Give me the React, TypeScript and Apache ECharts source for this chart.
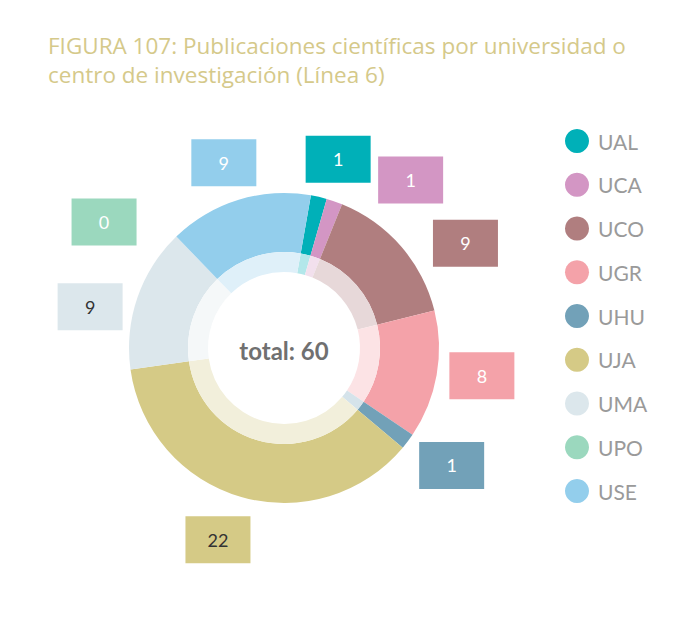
import React, { useEffect, useRef } from "react";
import * as echarts from "echarts";

const titleLines = [
  "FIGURA 107: Publicaciones científicas por universidad o",
  "centro de investigación (Línea 6)",
];
const categories = ["UAL", "UCA", "UCO", "UGR", "UHU", "UJA", "UMA", "UPO", "USE"];
const values = [1, 1, 9, 8, 1, 22, 9, 0, 9];
const colors = ["#00B0B8", "#D396C4", "#B07E7F", "#F4A2A9", "#72A1B8", "#D5CA86", "#DCE7EC", "#9BD8BE", "#93CEEC"];
const labelTextColors = ["#ffffff", "#ffffff", "#ffffff", "#ffffff", "#ffffff", "#333333", "#333333", "#ffffff", "#ffffff"];
// small hand tweaks of the label boxes around the ring (angle in degrees, radius in px), as in the original layout
const labelNudgeDeg = [3, 2, 3, -2, -2, 3, -7, -11, -1];
const labelNudgeR = [0, 9, 0, -5, -7, 6, -7, 8, -2];

const CX = 284;
const CY = 348;
const START_CW = 10; // degrees clockwise from 12 o'clock
const LABEL_EDGE_R = 172;
const MIN_GAP = 22;
const BOX_W = 65;
const BOX_H = 47;

function lighten(hex: string, a: number) {
  const n = parseInt(hex.slice(1), 16);
  const r = (n >> 16) & 255, g = (n >> 8) & 255, b = n & 255;
  const f = (c: number) => Math.round(255 - a * (255 - c));
  return `rgb(${f(r)},${f(g)},${f(b)})`;
}

function labelAngles() {
  const total = values.reduce((s, v) => s + v, 0);
  let cum = 0;
  const mids = values.map((v) => {
    const m = START_CW + ((cum + v / 2) * 360) / total;
    cum += v;
    return m;
  });
  const a = mids.slice();
  const n = a.length;
  for (let k = 0; k < 2; k++) {
    for (let i = 0; i < n; i++) {
      const prev = i === 0 ? a[n - 1] - 360 : a[i - 1];
      a[i] = Math.max(a[i], prev + MIN_GAP);
    }
  }
  return a.map((v, i) => v + labelNudgeDeg[i]);
}

export default function App() {
  const ref = useRef<HTMLDivElement>(null);
  useEffect(() => {
    if (!ref.current) return;
    const chart = echarts.init(ref.current, undefined, { renderer: "svg" });
    const angles = labelAngles();
    const data = categories.map((c, i) => ({
      name: c,
      value: values[i],
      itemStyle: { color: colors[i] },
      label: { backgroundColor: colors[i], color: labelTextColors[i] },
    }));
    const innerData = categories.map((c, i) => ({
      name: c,
      value: values[i],
      itemStyle: { color: lighten(colors[i], 0.3) },
    }));
    chart.setOption({
      animation: false,
      title: {
        text: titleLines.join("\n"),
        left: 43,
        top: 26,
        textStyle: {
          fontFamily: "Open Sans",
          fontWeight: "normal",
          fontSize: 22.5,
          lineHeight: 29,
          color: "#D5C98A",
        },
      },
      legend: {
        orient: "vertical",
        left: 560,
        top: 124,
        icon: "circle",
        itemWidth: 24,
        itemHeight: 24,
        itemGap: 19.75,
        data: categories,
        textStyle: {
          fontFamily: "Lato",
          fontSize: 21,
          color: "#9A9A9A",
          padding: [0, 0, 0, 4],
        },
      },
      graphic: [
        {
          type: "text",
          x: CX,
          y: CY + 2,
          style: {
            text: "total: 60",
            fontFamily: "Lato",
            fontWeight: "bold",
            fontSize: 24,
            fill: "#707070",
            align: "center",
            verticalAlign: "middle",
          },
        },
      ],
      series: [
        {
          type: "pie",
          center: [CX, CY],
          radius: [96, 155],
          startAngle: 90 - START_CW,
          clockwise: true,
          avoidLabelOverlap: false,
          data,
          label: {
            show: true,
            position: "outside",
            formatter: "{c}",
            width: BOX_W,
            height: BOX_H,
            lineHeight: BOX_H,
            align: "center",
            verticalAlign: "middle",
            fontFamily: "Lato",
            fontSize: 18,
            padding: 0,
          },
          labelLine: { show: false },
          labelLayout: (p: any) => {
            const i = p.dataIndex;
            const th = (angles[i] * Math.PI) / 180;
            const s = Math.abs(Math.sin(th));
            const c = Math.abs(Math.cos(th));
            const half = Math.min(s > 1e-6 ? BOX_W / 2 / s : 1e9, c > 1e-6 ? BOX_H / 2 / c : 1e9);
            const r = LABEL_EDGE_R + labelNudgeR[i] + half;
            return {
              x: CX + r * Math.sin(th),
              y: CY - r * Math.cos(th),
              align: "center",
              verticalAlign: "middle",
            };
          },
          emphasis: { disabled: true },
        },
        {
          type: "pie",
          center: [CX, CY],
          radius: [76, 96],
          startAngle: 90 - START_CW,
          clockwise: true,
          data: innerData,
          label: { show: false },
          labelLine: { show: false },
          emphasis: { disabled: true },
          silent: true,
        },
      ],
    });
    return () => chart.dispose();
  }, []);
  return (
    <div
      ref={ref}
      style={{ position: "absolute", left: 0, top: 0, width: 700, height: 620, background: "#fff" }}
    />
  );
}
